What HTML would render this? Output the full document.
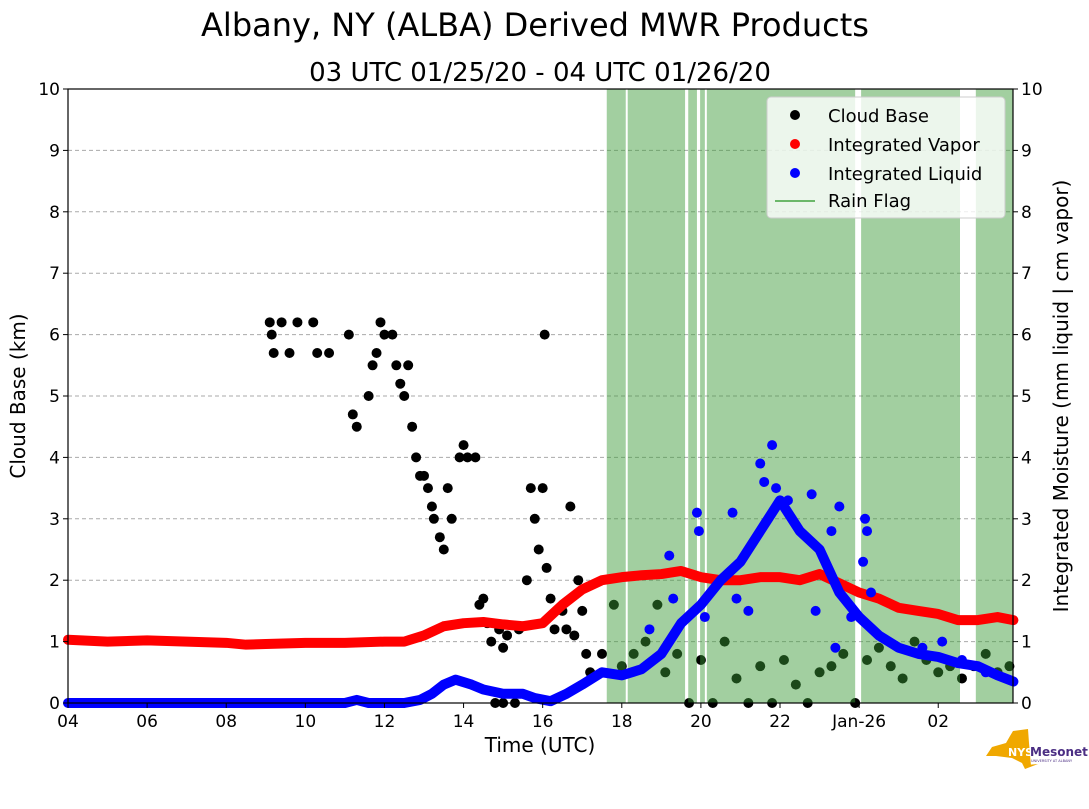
<!DOCTYPE html>
<html><head><meta charset="utf-8"><style>
body{margin:0;background:#fff;font-family:"Liberation Sans","DejaVu Sans",sans-serif}
svg text{font-family:"DejaVu Sans","Liberation Sans",sans-serif}
</style></head><body>
<svg id="chart" width="1089" height="804" viewBox="0 0 1089 804">
<text x="535" y="36" font-size="32" text-anchor="middle">Albany, NY (ALBA) Derived MWR Products</text>
<text x="540" y="81" font-size="26" text-anchor="middle">03 UTC 01/25/20 - 04 UTC 01/26/20</text>
<g id="grid"></g>
<g id="cloud"></g>
<g id="rain"></g>
<g id="vapor"></g>
<g id="liquid"></g>
<rect x="68" y="89" width="945" height="614" fill="none" stroke="#000" stroke-width="1.2"/>
<g id="axes"></g>
<text x="540" y="752" font-size="20" text-anchor="middle">Time (UTC)</text>
<text transform="translate(25,396) rotate(-90)" font-size="20" text-anchor="middle">Cloud Base (km)</text>
<text transform="translate(1068,396) rotate(-90)" font-size="20" text-anchor="middle">Integrated Moisture (mm liquid | cm vapor)</text>
<g>
<rect x="767" y="97" width="238" height="121" rx="4" fill="#fff" fill-opacity="0.8" stroke="#ccc"/>
<circle cx="795" cy="115" r="5" fill="#000"/><text x="828" y="122" font-size="18">Cloud Base</text>
<circle cx="795" cy="144" r="5" fill="red"/><text x="828" y="151" font-size="18">Integrated Vapor</text>
<circle cx="795" cy="173" r="5" fill="blue"/><text x="828" y="180" font-size="18">Integrated Liquid</text>
<line x1="775" y1="201" x2="815" y2="201" stroke="#6cb86a" stroke-width="2"/><text x="828" y="207" font-size="18">Rain Flag</text>
</g>
<g>
<path d="M1013 731 L1028 729 L1029 743 L1031 766 L1026 765 L1038 764 L1025 769 L1022 763 L1012 758 L996 756 L986 756 L992 747 L1006 743 L1010 736 Z" fill="#f0a800"/>
<text x="1008" y="756" font-size="11" font-weight="bold" fill="#fff">NYS</text>
<text x="1030" y="756" font-size="12" font-weight="bold" fill="#4b2e83">Mesonet</text>
<text x="1031" y="762" font-size="3.5" fill="#4b2e83">UNIVERSITY AT ALBANY</text>
</g>
</svg>
<script>
const xTickLabels=["04","06","08","10","12","14","16","18","20","22","Jan-26","02"];
const xTickHours=[4,6,8,10,12,14,16,18,20,22,24,26];
const yTicks=[0,1,2,3,4,5,6,7,8,9,10];
const vaporT=[4,5,6,7,8,8.5,9,10,11,12,12.5,13,13.5,14,14.5,15,15.5,16,16.5,17,17.5,18,18.5,19,19.5,20,20.5,21,21.5,22,22.5,23,23.5,24,24.5,25,25.5,26,26.5,27,27.5,27.9];
const vaporV=[1.03,1.0,1.02,1.0,0.98,0.95,0.96,0.98,0.98,1.0,1.0,1.1,1.25,1.3,1.32,1.28,1.25,1.3,1.6,1.85,2.0,2.05,2.08,2.1,2.15,2.05,2.0,2.0,2.05,2.05,2.0,2.1,1.95,1.8,1.7,1.55,1.5,1.45,1.35,1.35,1.4,1.35];
const liquidT=[4,11,11.3,11.6,12.5,12.9,13.2,13.5,13.8,14.2,14.5,15,15.5,15.8,16.2,16.6,17,17.5,18,18.5,19,19.5,20,20.5,21,21.5,22,22.5,23,23.5,24,24.5,25,25.5,26,26.5,27,27.5,27.9];
const liquidV=[0,0,0.05,0,0,0.05,0.15,0.3,0.38,0.3,0.22,0.15,0.15,0.08,0.03,0.15,0.3,0.5,0.45,0.55,0.8,1.3,1.6,2.0,2.3,2.8,3.3,2.8,2.5,1.8,1.4,1.1,0.9,0.8,0.75,0.65,0.6,0.45,0.35];
const liquidSpikes=[[19.2,2.4],[19.9,3.1],[19.95,2.8],[20.8,3.1],[21.5,3.9],[21.6,3.6],[21.8,4.2],[21.9,3.5],[22.2,3.3],[22.8,3.4],[23.3,2.8],[23.5,3.2],[24.15,3.0],[24.2,2.8],[24.1,2.3],[24.3,1.8],[18.7,1.2],[19.3,1.7],[20.1,1.4],[20.9,1.7],[21.2,1.5],[22.9,1.5],[23.4,0.9],[23.8,1.4],[25.6,0.9],[26.1,1.0],[26.6,0.7],[27.2,0.5]];
const cloudPts=[[9.1,6.2],[9.15,6.0],[9.2,5.7],[9.4,6.2],[9.6,5.7],[9.8,6.2],[10.2,6.2],[10.3,5.7],[10.6,5.7],[11.1,6.0],[11.2,4.7],[11.3,4.5],[11.6,5.0],[11.7,5.5],[11.8,5.7],[11.9,6.2],[12.0,6.0],[12.2,6.0],[12.3,5.5],[12.4,5.2],[12.5,5.0],[12.6,5.5],[12.7,4.5],[12.8,4.0],[12.9,3.7],[13.0,3.7],[13.1,3.5],[13.2,3.2],[13.25,3.0],[13.4,2.7],[13.5,2.5],[13.6,3.5],[13.7,3.0],[13.9,4.0],[14.0,4.2],[14.1,4.0],[14.3,4.0],[14.4,1.6],[14.5,1.7],[14.6,1.3],[14.7,1.0],[14.9,1.2],[15.0,0.9],[15.1,1.1],[15.4,1.2],[14.8,0],[15.0,0],[15.3,0],[15.6,2.0],[15.7,3.5],[15.8,3.0],[15.9,2.5],[16.0,3.5],[16.05,6.0],[16.1,2.2],[16.2,1.7],[16.3,1.2],[16.5,1.5],[16.6,1.2],[16.7,3.2],[16.8,1.1],[16.9,2.0],[17.0,1.5],[17.1,0.8],[17.2,0.5],[17.5,0.8],[17.8,1.6],[18.0,0.6],[18.3,0.8],[18.6,1.0],[18.9,1.6],[19.1,0.5],[19.4,0.8],[19.7,0],[20.0,0.7],[20.3,0],[20.6,1.0],[20.9,0.4],[21.2,0],[21.5,0.6],[21.8,0],[22.1,0.7],[22.4,0.3],[22.7,0],[23.0,0.5],[23.3,0.6],[23.6,0.8],[23.9,0],[24.2,0.7],[24.5,0.9],[24.8,0.6],[25.1,0.4],[25.4,1.0],[25.7,0.7],[26.0,0.5],[26.3,0.6],[26.6,0.4],[26.9,0.6],[27.2,0.8],[27.5,0.5],[27.8,0.6]];
const rainSpans=[[17.62,18.1],[18.15,19.6],[19.68,19.9],[19.98,20.1],[20.15,23.9],[24.05,26.55],[26.95,27.95]];
const NS="http://www.w3.org/2000/svg";
const x0=68,x1=1013,y0=703,y1=89,tMin=4,tMax=27.89;
const X=t=>x0+(t-tMin)/(tMax-tMin)*(x1-x0);
const Y=v=>y0-v/10*(y0-y1);
function mk(tag,attrs,parent){const e=document.createElementNS(NS,tag);for(const k in attrs)e.setAttribute(k,attrs[k]);parent.appendChild(e);return e;}
const grid=document.getElementById('grid'),axes=document.getElementById('axes');
yTicks.forEach(v=>{
  if(v>0&&v<10){const l=mk('line',{x1:x0,x2:x1,y1:Y(v),y2:Y(v),stroke:'#aaa','stroke-dasharray':'4,3','stroke-width':1},grid);
  }
  const a=mk('text',{x:x0-8,y:Y(v)+6,'font-size':17,'text-anchor':'end'},axes);a.textContent=v;
  
  const b=mk('text',{x:x1+8,y:Y(v)+6,'font-size':17},axes);b.textContent=v;
  
  mk('line',{x1:x0-5,x2:x0,y1:Y(v),y2:Y(v),stroke:'#000'},axes);
  mk('line',{x1:x1,x2:x1+5,y1:Y(v),y2:Y(v),stroke:'#000'},axes);
});
xTickHours.forEach((h,i)=>{
  mk('line',{x1:X(h),x2:X(h),y1:y0,y2:y0+5,stroke:'#000'},axes);
  const t=mk('text',{x:X(h),y:y0+24,'font-size':17,'text-anchor':'middle'},axes);t.textContent=xTickLabels[i];
  
});
const cg=document.getElementById('cloud');
cloudPts.forEach(p=>{const c=mk('circle',{cx:X(p[0]),cy:Y(p[1]),r:5,fill:'#000'},cg);
  });
const rg=document.getElementById('rain');
rainSpans.forEach(s=>{const r=mk('rect',{x:X(s[0]),y:y1,width:Math.max(1,X(Math.min(s[1],tMax))-X(s[0])),height:y0-y1,fill:'#3a9a36','fill-opacity':0.47},rg);
  });
function line(g,T,V,color,name){
  const p=mk('polyline',{points:T.map((t,i)=>X(t)+','+Y(V[i])).join(' '),fill:'none',stroke:color,'stroke-width':10,'stroke-linecap':'round','stroke-linejoin':'round'},g);
  
}
line(document.getElementById('vapor'),vaporT,vaporV,'red','vapor-line');
const lg=document.getElementById('liquid');
line(lg,liquidT,liquidV,'blue','liquid-line');
liquidSpikes.forEach(p=>{const c=mk('circle',{cx:X(p[0]),cy:Y(p[1]),r:5,fill:'blue'},lg);
  });
</script>
</body></html>
